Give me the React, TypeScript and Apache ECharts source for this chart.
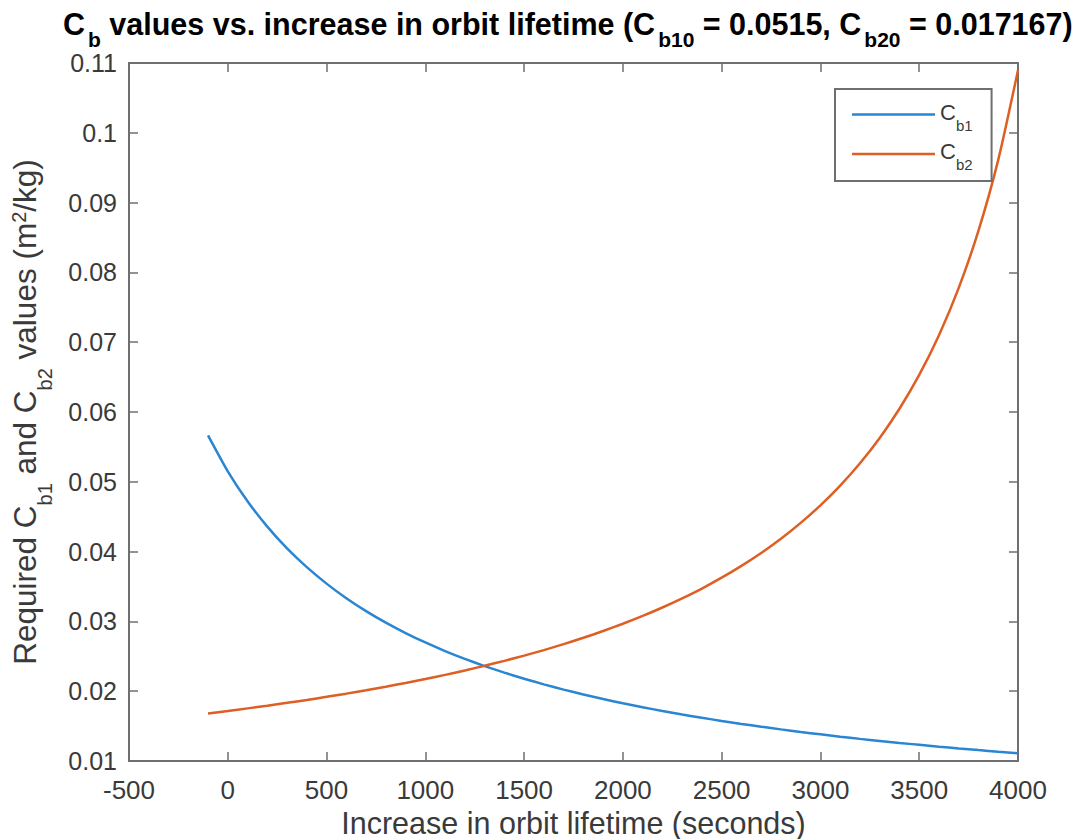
import React, { useEffect, useRef } from "react";
import * as echarts from "echarts";

// Lifetime increase (s) at which the ballistic coefficients are sampled
const lifetimeIncrease = [
  -100, 0, 100, 200, 300, 400, 500, 600, 700, 800, 900, 1000, 1100, 1200, 1300,
  1400, 1500, 1600, 1700, 1800, 1900, 2000, 2100, 2200, 2300, 2400, 2500, 2600,
  2700, 2800, 2900, 3000, 3100, 3200, 3300, 3400, 3500, 3600, 3700, 3800, 3900,
  4000,
];

// Required C_b1 (m^2/kg)
const cb1Values = [
  0.05665, 0.0515, 0.04721, 0.04358, 0.04046, 0.03777, 0.03541, 0.03332,
  0.03147, 0.02982, 0.02833, 0.02698, 0.02575, 0.02463, 0.0236, 0.02266,
  0.02179, 0.02098, 0.02023, 0.01953, 0.01888, 0.01827, 0.0177, 0.01717,
  0.01666, 0.01619, 0.01574, 0.01531, 0.01491, 0.01453, 0.01416, 0.01382,
  0.01349, 0.01317, 0.01288, 0.01259, 0.01232, 0.01205, 0.0118, 0.01156,
  0.01133, 0.01111,
];

// Required C_b2 (m^2/kg)
const cb2Values = [
  0.01681, 0.01717, 0.01754, 0.01792, 0.01833, 0.01875, 0.01919, 0.01965,
  0.02014, 0.02065, 0.02118, 0.02175, 0.02234, 0.02297, 0.02364, 0.02435,
  0.0251, 0.02589, 0.02674, 0.02765, 0.02862, 0.02966, 0.03078, 0.03199,
  0.0333, 0.03471, 0.03626, 0.03795, 0.0398, 0.04184, 0.04411, 0.04663,
  0.04946, 0.05266, 0.05629, 0.06047, 0.06531, 0.071, 0.07778, 0.08598,
  0.09612, 0.10897,
];

const seriesNames = ["Cb1", "Cb2"];

const FONT = '"Liberation Sans", Arial, Helvetica, sans-serif';
const AXIS_COLOR = "#6f6f6f";
const LABEL_COLOR = "#3a3a3a";

// Rich-text token styles. Padding above a token pushes its glyphs down,
// padding below lifts them, which is how sub- and superscripts are placed.
const tok = (
  size: number,
  color: string,
  padTop: number,
  padBottom: number,
  bold = false,
  padLeft = 0
) => ({
  fontSize: size,
  fontFamily: FONT,
  fontWeight: bold ? "bold" : "normal",
  color,
  padding: [padTop, 0, padBottom, padLeft],
});

export default function App() {
  const ref = useRef<HTMLDivElement>(null);

  useEffect(() => {
    if (!ref.current) return;
    const chart = echarts.init(ref.current, undefined, { renderer: "svg" });

    const pairs = (ys: number[]) => lifetimeIncrease.map((x, i) => [x, ys[i]]);

    const tickStyle = {
      show: true,
      inside: true,
      length: 9,
      lineStyle: { color: AXIS_COLOR, width: 1.5 },
    };
    const lineStyle = { lineStyle: { color: AXIS_COLOR, width: 2 } };

    chart.setOption({
      animation: false,
      backgroundColor: "#ffffff",
      title: {
        text:
          "{b|C}{bs|b}{b| values vs. increase in orbit lifetime (C}{bs|b10}{b| = 0.0515, C}{bs|b20}{b| = 0.017167)}",
        left: 63,
        top: 8,
        padding: 0,
        textStyle: {
          color: "#000000",
          fontFamily: FONT,
          rich: {
            b: tok(30.5, "#000000", 0, 16, true),
            bs: tok(21, "#000000", 16, 0, true, 3),
          },
        },
      },
      legend: {
        orient: "vertical",
        left: 835,
        top: 89,
        padding: [12, 19, 9, 17],
        itemWidth: 83,
        itemHeight: 2.5,
        itemGap: 8,
        icon: "rect",
        borderColor: AXIS_COLOR,
        borderWidth: 2,
        borderRadius: 0,
        backgroundColor: "#ffffff",
        data: seriesNames,
        formatter: (name: string) =>
          name === "Cb1" ? "{c|C}{s|b1}" : "{c|C}{s|b2}",
        textStyle: {
          color: LABEL_COLOR,
          rich: {
            c: tok(22, LABEL_COLOR, 0, 5),
            s: tok(15, LABEL_COLOR, 21, 0),
          },
        },
      },
      grid: {
        left: 129,
        right: 66,
        top: 63,
        bottom: 78,
        outerBoundsMode: "none",
        containLabel: false,
      },
      xAxis: [
        {
          type: "value",
          min: -500,
          max: 4000,
          interval: 500,
          position: "bottom",
          name: "Increase in orbit lifetime (seconds)",
          nameLocation: "middle",
          nameGap: 43,
          nameTextStyle: { fontSize: 30.5, fontFamily: FONT, color: LABEL_COLOR },
          axisLine: { show: true, onZero: false, ...lineStyle },
          axisTick: tickStyle,
          axisLabel: {
            fontSize: 26,
            fontFamily: FONT,
            color: LABEL_COLOR,
            margin: 16,
            formatter: (v: number) => String(v),
          },
          splitLine: { show: false },
        },
        {
          type: "value",
          min: -500,
          max: 4000,
          interval: 500,
          position: "top",
          axisLine: { show: true, onZero: false, ...lineStyle },
          axisTick: tickStyle,
          axisLabel: { show: false },
          splitLine: { show: false },
        },
      ],
      yAxis: [
        {
          type: "value",
          min: 0.01,
          max: 0.11,
          interval: 0.01,
          position: "left",
          name:
            "{m|Required C}{s|b1}{m| and C}{s|b2}{m| values (m}{p|2}{m|/kg)}",
          nameLocation: "middle",
          nameGap: 67,
          nameRotate: 90,
          nameTextStyle: {
            fontSize: 31.5,
            fontFamily: FONT,
            color: LABEL_COLOR,
            rich: {
              m: tok(31.5, LABEL_COLOR, 0, 21),
              s: tok(20, LABEL_COLOR, 19, 0),
              p: tok(20, LABEL_COLOR, 0, 33),
            },
          },
          axisLine: { show: true, onZero: false, ...lineStyle },
          axisTick: tickStyle,
          axisLabel: {
            fontSize: 25,
            fontFamily: FONT,
            color: LABEL_COLOR,
            margin: 12,
            formatter: (v: number) => String(parseFloat(v.toFixed(4))),
          },
          splitLine: { show: false },
        },
        {
          type: "value",
          min: 0.01,
          max: 0.11,
          interval: 0.01,
          position: "right",
          axisLine: { show: true, onZero: false, ...lineStyle },
          axisTick: tickStyle,
          axisLabel: { show: false },
          splitLine: { show: false },
        },
      ],
      series: [
        {
          name: "Cb1",
          type: "line",
          data: pairs(cb1Values),
          symbol: "none",
          smooth: 0.2,
          clip: true,
          lineStyle: { color: "#2a86d2", width: 2.5 },
          itemStyle: { color: "#2a86d2" },
        },
        {
          name: "Cb2",
          type: "line",
          data: pairs(cb2Values),
          symbol: "none",
          smooth: 0.2,
          clip: true,
          lineStyle: { color: "#de5f24", width: 2.5 },
          itemStyle: { color: "#de5f24" },
        },
      ],
    });

    return () => chart.dispose();
  }, []);

  return (
    <div
      ref={ref}
      style={{ position: "fixed", left: 0, top: 0, width: 1084, height: 839 }}
    />
  );
}
